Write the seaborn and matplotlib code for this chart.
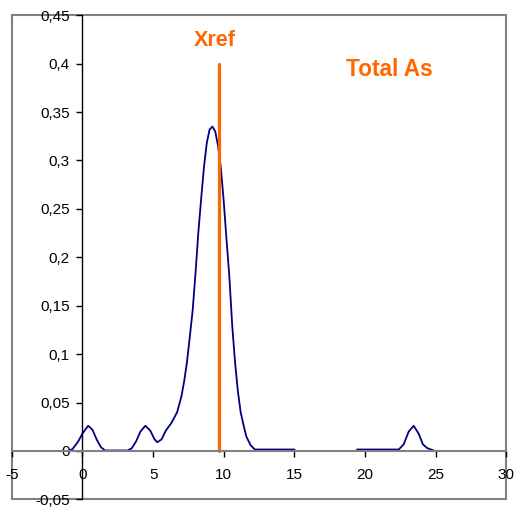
import numpy as np
import pandas as pd
import matplotlib
matplotlib.use("Agg")
import matplotlib.pyplot as plt
import seaborn as sns
from matplotlib.patches import Rectangle
from matplotlib.ticker import FuncFormatter

# Data
x_vals = [-1.0, -0.7, -0.3, 0.0, 0.4, 0.7, 1.0, 1.3, 1.6, 3.2, 3.5, 3.8, 4.1, 4.45,
          4.8, 5.1, 5.3, 5.6, 5.9, 6.3, 6.7, 7.0, 7.2, 7.4, 7.6, 7.8, 8.0, 8.2, 8.4,
          8.6, 8.8, 9.0, 9.2, 9.4, 9.6, 9.8, 10.0, 10.2, 10.4, 10.6, 10.8, 11.0, 11.2,
          11.4, 11.6, 11.9, 12.2, 15.0, 15.05, 19.4, 19.45, 22.4, 22.75, 23.1, 23.45,
          23.8, 24.1, 24.4, 24.95]
density = [0.0, 0.002, 0.010, 0.018, 0.026, 0.022, 0.012, 0.004, 0.0005, 0.0005, 0.003,
           0.010, 0.020, 0.026, 0.021, 0.012, 0.009, 0.012, 0.021, 0.029, 0.040, 0.056,
           0.072, 0.092, 0.118, 0.145, 0.183, 0.225, 0.260, 0.293, 0.318, 0.332, 0.335,
           0.330, 0.315, 0.292, 0.258, 0.218, 0.180, 0.130, 0.092, 0.062, 0.040, 0.027,
           0.015, 0.006, 0.0015, 0.0015, 0.0, 0.0, 0.0015, 0.0015, 0.007, 0.020, 0.026,
           0.018, 0.007, 0.003, 0.0]
xref = 9.7
xref_top = 0.4
x_ticks = [-5, 0, 5, 10, 15, 20, 25, 30]
y_ticks = [-0.05, 0, 0.05, 0.1, 0.15, 0.2, 0.25, 0.3, 0.35, 0.4, 0.45]
label_xref = "Xref"
label_title = "Total As"

sns.set_style("white")
plt.rcParams['font.family'] = ['Liberation Sans', 'DejaVu Sans']

fig = plt.figure(figsize=(5.17, 5.08), dpi=100)
ax = fig.add_axes([0.023, 0.017, 0.956, 0.953])

df = pd.DataFrame({"x": x_vals, "y": density})
sns.lineplot(data=df, x="x", y="y", ax=ax, color="#000080", linewidth=1.3, sort=False)

ax.plot([xref, xref], [0, xref_top], color="#FF6600", linewidth=2.3)

ax.set_xlim(-5, 30)
ax.set_ylim(-0.05, 0.45)
ax.set_xticks(x_ticks)
ax.set_yticks(y_ticks)

fmt = FuncFormatter(lambda v, p: ('%g' % round(v, 4)).replace('.', ','))
ax.xaxis.set_major_formatter(fmt)
ax.yaxis.set_major_formatter(fmt)

ax.spines['left'].set_position(('data', 0))
ax.spines['bottom'].set_position(('data', 0))
ax.spines['left'].set_color('black')
ax.spines['left'].set_linewidth(1.0)
ax.spines['bottom'].set_color('#808080')
ax.spines['bottom'].set_linewidth(1.5)
ax.spines['top'].set_visible(False)
ax.spines['right'].set_visible(False)
ax.add_patch(Rectangle((0, 0), 1, 1, transform=ax.transAxes, fill=False,
                       edgecolor='#808080', linewidth=1.5, clip_on=False, zorder=0))

ax.tick_params(axis='y', direction='out', length=4, width=1, color='black',
               labelsize=11, labelcolor='black', pad=5, left=True)
ax.tick_params(axis='x', direction='out', length=4, width=1, color='black',
               labelsize=11, labelcolor='black', pad=8, bottom=True)

ax.text(9.4, 0.4236, label_xref, color="#FF6600", fontsize=15.5, fontweight='bold',
        ha='center', va='center')
ax.text(21.7, 0.3935, label_title, color="#FF6600", fontsize=16.3, fontweight='bold',
        ha='center', va='center')

ax.set_xlabel("")
ax.set_ylabel("")
ax.grid(False)

fig.savefig("out.png", dpi=100)
